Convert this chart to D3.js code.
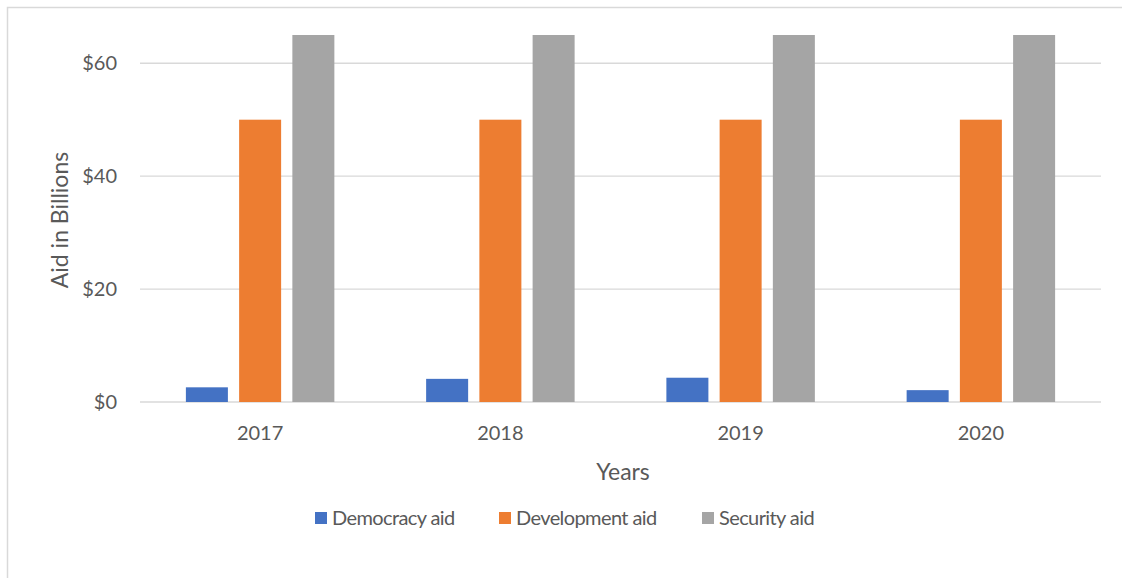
<!DOCTYPE html>
<html>
<head>
<meta charset="utf-8">
<script src="https://cdn.jsdelivr.net/npm/d3@7"></script>
<style>
  body { margin: 0; background: #fff; }
  svg text { font-family: Lato, "Open Sans", sans-serif; fill: #595959; }
</style>
</head>
<body>
<svg id="chart" width="1122" height="578"></svg>
<script>
const years = ["2017", "2018", "2019", "2020"];
const seriesNames = ["Democracy aid", "Development aid", "Security aid"];
const democracyAid = [2.6, 4.1, 4.3, 2.1];
const developmentAid = [50, 50, 50, 50];
const securityAid = [65, 65, 65, 65];
const yTicks = [0, 20, 40, 60];
const colors = ["#4472C4", "#ED7D31", "#A5A5A5"];

const seriesValues = [democracyAid, developmentAid, securityAid];

const svg = d3.select('#chart');

// chart border
svg.append('rect')
    .attr('x', 7.5).attr('y', 7.5)
    .attr('width', 1130).attr('height', 600)
    .attr('fill', 'none')
    .attr('stroke', '#d9d9d9')
    .attr('stroke-width', 1.5);

const plot = {left: 140, right: 1101, top: 35, bottom: 402};

const xScale = d3.scaleBand()
    .domain(years)
    .range([plot.left, plot.right]);

const groupWidth = xScale.bandwidth() * 0.618;

const xInner = d3.scaleBand()
    .domain(seriesNames)
    .range([0, groupWidth])
    .paddingInner(0.211);

const yScale = d3.scaleLinear()
    .domain([0, 65])
    .range([plot.bottom, plot.top]);

// gridlines
svg.append('g')
    .selectAll('line')
    .data(yTicks)
    .join('line')
        .attr('x1', plot.left)
        .attr('x2', plot.right)
        .attr('y1', d => yScale(d))
        .attr('y2', d => yScale(d))
        .attr('stroke', '#d9d9d9')
        .attr('stroke-width', d => d === 0 ? 1.6 : 1.3);

// y labels
svg.append('g')
    .selectAll('text')
    .data(yTicks)
    .join('text')
        .attr('x', 117)
        .attr('y', d => yScale(d))
        .attr('dy', '0.35em')
        .attr('text-anchor', 'end')
        .style('font-size', '20px')
        .text(d => `$${d}`);

// bars
const groups = svg.append('g')
    .selectAll('g')
    .data(years)
    .join('g')
        .attr('transform', d => `translate(${xScale(d) + (xScale.bandwidth() - groupWidth) / 2}, 0)`);

groups.selectAll('rect')
    .data((d, i) => seriesNames.map((s, j) => ({series: s, value: seriesValues[j][i], color: colors[j]})))
    .join('rect')
        .attr('x', d => xInner(d.series))
        .attr('width', xInner.bandwidth())
        .attr('y', d => yScale(d.value))
        .attr('height', d => plot.bottom - yScale(d.value))
        .attr('fill', d => d.color);

// x labels
svg.append('g')
    .selectAll('text')
    .data(years)
    .join('text')
        .attr('x', d => xScale(d) + xScale.bandwidth() / 2)
        .attr('y', 440)
        .attr('text-anchor', 'middle')
        .style('font-size', '20px')
        .text(d => d);

// axis titles
svg.append('text')
    .attr('transform', 'translate(68, 220) rotate(-90)')
    .attr('text-anchor', 'middle')
    .style('font-size', '23px')
    .text('Aid in Billions');

svg.append('text')
    .attr('x', 623)
    .attr('y', 480)
    .attr('text-anchor', 'middle')
    .style('font-size', '23px')
    .text('Years');

// legend
const legendX = [315, 499, 702];
const legend = svg.append('g')
    .selectAll('g')
    .data(seriesNames)
    .join('g')
        .attr('transform', (d, i) => `translate(${legendX[i]}, 518)`);

legend.append('rect')
    .attr('x', 0).attr('y', -6)
    .attr('width', 12).attr('height', 12)
    .attr('fill', (d, i) => colors[i]);

legend.append('text')
    .attr('x', 17)
    .attr('dy', '0.35em')
    .style('font-size', '20px')
    .style('letter-spacing', '-0.6px')
    .text(d => d);
</script>
</body>
</html>
